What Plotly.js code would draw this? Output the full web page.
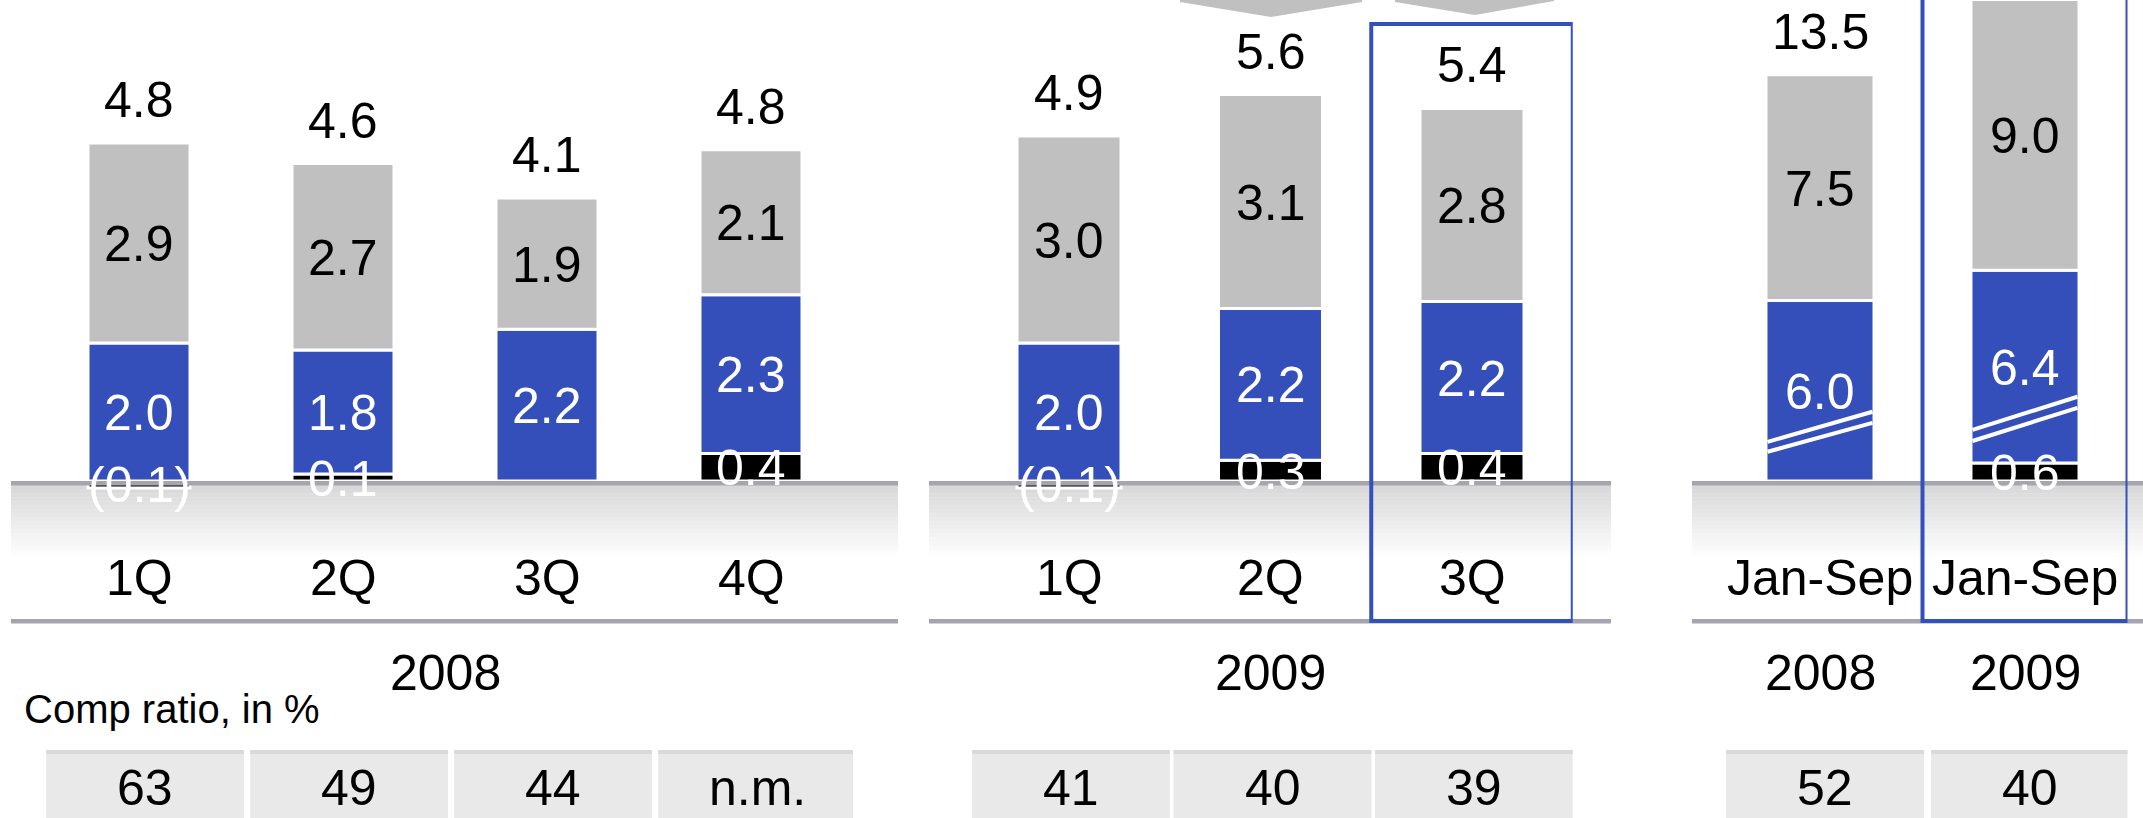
<!DOCTYPE html>
<html>
<head>
<meta charset="utf-8">
<script src="https://cdn.plot.ly/plotly-3.0.1.min.js"></script>
<style>html,body{margin:0;padding:0;background:#fff;}#chart{width:2143px;height:818px;}</style>
</head>
<body>
<div id="chart"></div>
<script>
// ---------- data ----------
const cats2008 = ['1Q', '2Q', '3Q', '4Q'];
const other2008 = [-0.1, 0.1, 0.0, 0.4];
const blue2008 = [2.0, 1.8, 2.2, 2.3];
const gray2008 = [2.9, 2.7, 1.9, 2.1];
const comp2008 = ['63', '49', '44', 'n.m.'];

const cats2009 = ['1Q', '2Q', '3Q'];
const other2009 = [-0.1, 0.3, 0.4];
const blue2009 = [2.0, 2.2, 2.2];
const gray2009 = [3.0, 3.1, 2.8];
const comp2009 = ['41', '40', '39'];

const catsYtd = ['Jan-Sep 2008', 'Jan-Sep 2009'];
const ytdLabels = ['Jan-Sep', 'Jan-Sep'];
const ytdYears = ['2008', '2009'];
const otherYtd = [0.0, 0.6];
const blueYtd = [6.0, 6.4];
const grayYtd = [7.5, 9.0];
const compYtd = ['52', '40'];

const compTitle = 'Comp ratio, in %';

// ---------- layout helpers ----------
const W = 2143, H = 818;
const FONT = 'Arial, "Liberation Sans", sans-serif';
const BLUE = '#344FB9', GRAY = '#C0C0C0', BLACK = '#000000', LINE = '#A5A5AF';
const ZERO_PX = 481;
const pY = v => 1 - v / H;
const pX = v => v / W;

const yScales = { y: 69, y3: 30.1 };
function yRange(ppu) { return [-(H - ZERO_PX) / ppu, ZERO_PX / ppu]; }

const groups = [
  { xa: 'x', ya: 'y', cats: cats2008, labels: cats2008, other: other2008, blue: blue2008, gray: gray2008, comp: comp2008,
    years: null, year: '2008', dom: [37, 853], barW: 0.5, cellHalf: 0.485, cellShift: 0.03 },
  { xa: 'x2', ya: 'y', cats: cats2009, labels: cats2009, other: other2009, blue: blue2009, gray: gray2009, comp: comp2009,
    years: null, year: '2009', dom: [968.25, 1572.75], barW: 0.516, cellHalf: 0.491, cellShift: 0.01 },
  { xa: 'x3', ya: 'y3', cats: catsYtd, labels: ytdLabels, other: otherYtd, blue: blueYtd, gray: grayYtd, comp: compYtd,
    years: ytdYears, year: null, dom: [1717.5, 2127.5], barW: 0.527, cellHalf: 0.483, cellShift: 0.025 }
];

const traces = [];
const annotations = [];
const shapes = [];

// background panels: baseline line, gradient band, bottom line
const panels = [[11, 898], [929, 1611], [1692, 2143]];
const bandTop = 485.5, bandFade = 558, steps = 18;
panels.forEach(([a, b]) => {
  for (let s = 0; s < steps; s++) {
    const y0 = bandTop + (bandFade - bandTop) * s / steps;
    const y1 = bandTop + (bandFade - bandTop) * (s + 1) / steps;
    const t = (s + 0.5) / steps;
    const c = Math.round(215 + (255 - 215) * t);
    shapes.push({ type: 'rect', xref: 'paper', yref: 'paper', x0: pX(a), x1: pX(b), y0: pY(y1), y1: pY(y0) + 0.0005,
      fillcolor: `rgb(${c},${c},${c})`, line: { width: 0 }, layer: 'below' });
  }
  shapes.push({ type: 'rect', xref: 'paper', yref: 'paper', x0: pX(a), x1: pX(b), y0: pY(485.5), y1: pY(481),
    fillcolor: LINE, line: { width: 0 }, layer: 'above' });
  shapes.push({ type: 'rect', xref: 'paper', yref: 'paper', x0: pX(a), x1: pX(b), y0: pY(623.5), y1: pY(619),
    fillcolor: LINE, line: { width: 0 }, layer: 'below' });
});

// chevrons at the top (cropped arrows)
const chevrons = [
  [[1180, 0], [1362, 0], [1362, 2], [1271, 17], [1180, 2]],
  [[1395, 0], [1554, 0], [1554, 1], [1475, 15], [1395, 2]]
];
chevrons.forEach(pts => {
  const path = pts.map((p, i) => (i ? 'L' : 'M') + pX(p[0]).toFixed(5) + ',' + pY(p[1]).toFixed(5)).join(' ') + ' Z';
  shapes.push({ type: 'path', xref: 'paper', yref: 'paper', path, fillcolor: GRAY, line: { width: 0 }, layer: 'below' });
});

const layout = {
  width: W, height: H,
  margin: { l: 0, r: 0, t: 0, b: 0, pad: 0 },
  paper_bgcolor: '#ffffff', plot_bgcolor: 'rgba(0,0,0,0)',
  barmode: 'relative',
  showlegend: false,
  font: { family: FONT, size: 50, color: '#000' },
  yaxis: { domain: [0, 1], range: yRange(yScales.y), visible: false, fixedrange: true },
  yaxis3: { domain: [0, 1], range: yRange(yScales.y3), visible: false, fixedrange: true, anchor: 'x3' },
  annotations, shapes
};

groups.forEach((g, gi) => {
  const axName = g.xa === 'x' ? 'xaxis' : 'xaxis' + g.xa.slice(1);
  layout[axName] = { domain: [pX(g.dom[0]), pX(g.dom[1])], type: 'category', categoryarray: g.cats,
    range: [-0.5, g.cats.length - 0.5], visible: false, fixedrange: true, anchor: g.ya };
  const ppu = yScales[g.ya];
  const yMax = yRange(ppu)[1];

  const series = [
    { name: 'Other', vals: g.other, color: BLACK, txt: '#ffffff' },
    { name: 'Core', vals: g.blue, color: BLUE, txt: '#ffffff' },
    { name: 'Variable', vals: g.gray, color: GRAY, txt: '#000000' }
  ];
  const posBase = g.cats.map(() => 0), negBase = g.cats.map(() => 0);
  series.forEach(s => {
    traces.push({
      type: 'bar', x: g.cats, y: s.vals, name: s.name, xaxis: g.xa, yaxis: g.ya,
      width: g.barW, marker: { color: s.color, line: { color: '#ffffff', width: 3 } },
      hoverinfo: 'skip', cliponaxis: false
    });
    s.vals.forEach((v, i) => {
      if (v === 0) return;
      let mid;
      if (v > 0) { mid = posBase[i] + v / 2; posBase[i] += v; }
      else { mid = negBase[i] + v / 2; negBase[i] += v; }
      const txt = v < 0 ? '(' + Math.abs(v).toFixed(1) + ')' : v.toFixed(1);
      annotations.push({ xref: g.xa, yref: g.ya, x: g.cats[i], y: mid, text: txt, showarrow: false,
        yanchor: 'middle', xanchor: 'center', yshift: -1, font: { family: FONT, size: 50, color: s.txt } });
    });
  });
  // totals
  g.cats.forEach((c, i) => {
    const total = g.other[i] + g.blue[i] + g.gray[i];
    const top = posBase[i];
    if (top + 72 / ppu > yMax) return; // label falls outside the picture (cropped in the original)
    annotations.push({ xref: g.xa, yref: g.ya, x: c, y: top, text: total.toFixed(1), showarrow: false,
      yanchor: 'middle', xanchor: 'center', yshift: 43, font: { family: FONT, size: 50, color: '#000' } });
  });
  // category labels
  g.cats.forEach((c, i) => {
    annotations.push({ xref: g.xa, yref: 'paper', x: i, y: pY(578), text: g.labels[i], showarrow: false,
      yanchor: 'middle', xanchor: 'center', font: { family: FONT, size: 50, color: '#000' } });
  });
  // year labels
  if (g.year) {
    annotations.push({ xref: g.xa, yref: 'paper', x: (g.cats.length - 1) / 2, y: pY(673), text: g.year, showarrow: false,
      yanchor: 'middle', xanchor: 'center', font: { family: FONT, size: 50, color: '#000' } });
  } else {
    g.years.forEach((yr, i) => {
      annotations.push({ xref: g.xa, yref: 'paper', x: i, y: pY(673), text: yr, showarrow: false,
        yanchor: 'middle', xanchor: 'center', font: { family: FONT, size: 50, color: '#000' } });
    });
  }
  // comp ratio table
  g.comp.forEach((v, i) => {
    const cx = i + g.cellShift;
    shapes.push({ type: 'rect', xref: g.xa, yref: 'paper', x0: cx - g.cellHalf, x1: cx + g.cellHalf,
      y0: pY(830), y1: pY(750), fillcolor: '#E9E9E9', line: { width: 0 }, layer: 'below' });
    shapes.push({ type: 'rect', xref: g.xa, yref: 'paper', x0: cx - g.cellHalf, x1: cx + g.cellHalf,
      y0: pY(754), y1: pY(750), fillcolor: '#D9D9D9', line: { width: 0 }, layer: 'below' });
    annotations.push({ xref: g.xa, yref: 'paper', x: cx, y: pY(788), text: v, showarrow: false,
      yanchor: 'middle', xanchor: 'center', font: { family: FONT, size: 50, color: '#000' } });
  });
});

annotations.push({ xref: 'paper', yref: 'paper', x: pX(22), y: pY(709), text: compTitle, showarrow: false,
  xanchor: 'left', yanchor: 'middle', font: { family: FONT, size: 40, color: '#000' } });

// axis-break marks on the Jan-Sep bars (two parallel white strokes)
const breaks = [
  { i: 0, lines: [[1.3, 2.3], [0.97, 1.93]] },
  { i: 1, lines: [[1.7, 2.8], [1.33, 2.43]] }
];
const hw = 0.256;
breaks.forEach(b => b.lines.forEach(([ya, yb]) => {
  shapes.push({ type: 'line', xref: 'x3', yref: 'y3', x0: b.i - hw, x1: b.i + hw, y0: ya, y1: yb,
    line: { color: '#ffffff', width: 4 }, layer: 'above' });
}));

// highlight boxes
shapes.push({ type: 'rect', xref: 'x2', yref: 'paper', x0: 1.5, x1: 2.5, y0: pY(621), y1: pY(24),
  line: { color: '#3450BC', width: 4 }, fillcolor: 'rgba(0,0,0,0)', layer: 'above' });
shapes.push({ type: 'rect', xref: 'x3', yref: 'paper', x0: 0.5, x1: 1.5, y0: pY(621), y1: 1.03,
  line: { color: '#3450BC', width: 4 }, fillcolor: 'rgba(0,0,0,0)', layer: 'above' });

Plotly.newPlot('chart', traces, layout, { staticPlot: true, displayModeBar: false });
</script>
</body>
</html>
